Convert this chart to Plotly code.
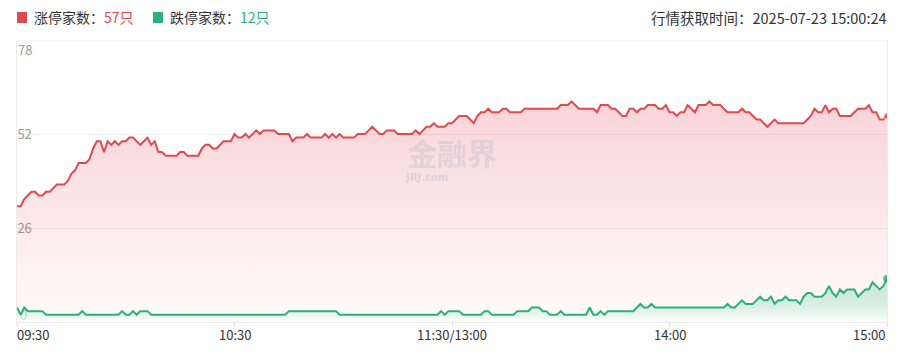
import plotly.graph_objects as go

# ---- data ----
tick_minutes = [0, 60, 120, 180, 240]
tick_labels = ["09:30", "10:30", "11:30/13:00", "14:00", "15:00"]
y_ticks = [0, 26, 52, 78]

limit_up = [
    32, 32, 34, 35, 36, 36, 35, 35, 36, 36, 37, 38, 38, 38, 39, 41, 42, 44, 44, 44,
    45, 48, 50, 50, 47, 50, 49, 50, 49, 50, 50, 51, 51, 50, 49, 50, 51, 49, 50, 47,
    47, 46, 46, 46, 46, 47, 47, 46, 46, 46, 46, 48, 49, 49, 48, 48, 49, 50, 50, 50,
    52, 51, 51, 52, 51, 52, 53, 52, 53, 53, 53, 53, 52, 52, 52, 52, 50, 51, 51, 51,
    52, 51, 51, 51, 51, 52, 51, 52, 51, 52, 51, 51, 51, 51, 52, 52, 52, 53, 54, 53,
    52, 52, 53, 53, 53, 52, 52, 52, 52, 52, 53, 52, 53, 54, 54, 55, 54, 54, 54, 55,
    55, 56, 57, 57, 57, 56, 55, 57, 58, 58, 59, 58, 58, 58, 59, 59, 58, 58, 58, 58,
    59, 59, 59, 59, 59, 59, 59, 59, 59, 59, 60, 60, 60, 61, 60, 59, 59, 59, 59, 59,
    58, 60, 60, 60, 59, 59, 58, 57, 57, 59, 59, 58, 59, 59, 60, 60, 60, 59, 59, 60,
    58, 58, 57, 58, 58, 60, 59, 58, 60, 60, 60, 61, 60, 60, 60, 59, 58, 58, 58, 58,
    59, 58, 58, 57, 56, 56, 55, 54, 55, 56, 55, 55, 55, 55, 55, 55, 55, 55, 56, 57,
    59, 58, 58, 60, 58, 59, 59, 57, 57, 57, 57, 58, 59, 59, 59, 60, 58, 58, 56, 56,
    57,
]

limit_down = [
    4, 2, 4, 3, 3, 3, 3, 3, 2, 2, 2, 2, 2, 2, 2, 2, 2, 2, 3, 2,
    2, 2, 2, 2, 2, 2, 2, 2, 2, 3, 2, 2, 3, 2, 3, 3, 3, 2, 2, 2,
    2, 2, 2, 2, 2, 2, 2, 2, 2, 2, 2, 2, 2, 2, 2, 2, 2, 2, 2, 2,
    2, 2, 2, 2, 2, 2, 2, 2, 2, 2, 2, 2, 2, 2, 2, 3, 3, 3, 3, 3,
    3, 3, 3, 3, 3, 3, 3, 3, 3, 2, 2, 2, 2, 2, 2, 2, 2, 2, 2, 2,
    2, 2, 2, 2, 2, 2, 2, 2, 2, 2, 2, 2, 2, 2, 2, 2, 2, 3, 2, 3,
    3, 3, 3, 2, 2, 2, 2, 2, 2, 3, 3, 2, 2, 2, 2, 2, 2, 2, 3, 3,
    3, 3, 4, 4, 4, 3, 3, 2, 2, 2, 3, 2, 2, 2, 2, 2, 2, 2, 4, 2,
    2, 3, 2, 3, 3, 3, 3, 3, 3, 3, 3, 4, 5, 4, 4, 5, 4, 4, 4, 4,
    4, 4, 4, 4, 4, 4, 4, 4, 4, 4, 4, 4, 4, 4, 4, 4, 5, 4, 4, 5,
    6, 5, 5, 5, 6, 7, 6, 6, 7, 5, 6, 6, 7, 6, 6, 6, 5, 7, 8, 8,
    7, 7, 7, 8, 10, 8, 7, 9, 8, 9, 9, 9, 7, 8, 9, 9, 11, 10, 9, 10,
    12,
]

minutes = list(range(len(limit_up)))

RED = "#e04a4f"
GREEN = "#2bb07a"
CJK = "Noto Sans CJK SC"

# page body has an 8px default margin; size the figure so it fills the window
OFF = 8
WIN_W, WIN_H = 903, 359
W, H = WIN_W - OFF, WIN_H - OFF
# plot area in window pixels
X_LEFT, X_RIGHT, Y_TOP, Y_BOT = 17, 887, 40, 322
L, R, T, B = X_LEFT - OFF, WIN_W - X_RIGHT, Y_TOP - OFF, WIN_H - Y_BOT
PW, PH = X_RIGHT - X_LEFT, Y_BOT - Y_TOP


def px(x):
    return (x - X_LEFT) / PW


def py(y):
    return (Y_BOT - y) / PH


fig = go.Figure()

end_sizes = [0] * (len(minutes) - 1) + [7]

fig.add_trace(go.Scatter(
    x=minutes, y=limit_up, mode="lines+markers", name="涨停家数",
    line=dict(color=RED, width=2, shape="linear"),
    marker=dict(size=end_sizes, color=RED),
    fill="tozeroy",
    fillgradient=dict(type="vertical",
                      colorscale=[[0, "rgba(232,80,96,0.02)"], [1, "rgba(232,80,96,0.25)"]],
                      start=0, stop=61),
    hoverinfo="skip", showlegend=False,
))

fig.add_trace(go.Scatter(
    x=minutes, y=limit_down, mode="lines+markers", name="跌停家数",
    line=dict(color=GREEN, width=2),
    marker=dict(size=end_sizes, color="#2e9a52"),
    fill="tozeroy",
    fillgradient=dict(type="vertical",
                      colorscale=[[0, "rgba(255,255,255,0.6)"], [1, "rgba(43,176,122,0.18)"]],
                      start=0, stop=12),
    hoverinfo="skip", showlegend=False,
))

annotations = []
# legend
annotations.append(dict(x=px(32), y=py(17), xref="paper", yref="paper", xanchor="left", yanchor="middle",
                        text=f'涨停家数：<span style="color:{RED}">{limit_up[-1]}只</span>',
                        showarrow=False, font=dict(family=CJK, size=14, color="#333333")))
annotations.append(dict(x=px(168), y=py(17), xref="paper", yref="paper", xanchor="left", yanchor="middle",
                        text=f'跌停家数：<span style="color:{GREEN}">{limit_down[-1]}只</span>',
                        showarrow=False, font=dict(family=CJK, size=14, color="#333333")))
annotations.append(dict(x=px(889), y=py(17), xref="paper", yref="paper", xanchor="right", yanchor="middle",
                        text="行情获取时间：2025-07-23 15:00:24",
                        showarrow=False, font=dict(family=CJK, size=14.5, color="#333333")))
# x tick labels
for i, (m, lab) in enumerate(zip(tick_minutes, tick_labels)):
    anchor = "left" if i == 0 else ("right" if i == len(tick_minutes) - 1 else "center")
    annotations.append(dict(x=m, y=0, xref="x", yref="paper", xanchor=anchor, yanchor="top", yshift=-1,
                            text=lab, showarrow=False, xshift=(-2 if i == 0 else 0),
                            font=dict(family=CJK, size=13, color="#333333")))
# top y label
annotations.append(dict(x=0, y=y_ticks[-1], xref="x", yref="y", xanchor="left", yanchor="top", xshift=-1,
                        yshift=2,
                        text=str(y_ticks[-1]), showarrow=False,
                        font=dict(family=CJK, size=13, color="#999999")))
# watermark
annotations.append(dict(x=px(452), y=py(152), xref="paper", yref="paper", xanchor="center", yanchor="middle",
                        text="<b>金融界</b>", showarrow=False,
                        font=dict(family=CJK, size=30, color="rgba(190,192,205,0.42)")))
annotations.append(dict(x=px(403), y=py(177), xref="paper", yref="paper", xanchor="left", yanchor="middle",
                        text="<b>JRJ.com</b>", showarrow=False,
                        font=dict(family="DejaVu Sans", size=10, color="rgba(190,192,205,0.5)")))

shapes = [
    dict(type="rect", xref="paper", yref="paper", x0=px(17), x1=px(27), y0=py(23), y1=py(12),
         fillcolor=RED, line=dict(width=0)),
    dict(type="rect", xref="paper", yref="paper", x0=px(153), x1=px(163), y0=py(23), y1=py(12),
         fillcolor=GREEN, line=dict(width=0)),
]

fig.update_layout(
    width=W, height=H,
    margin=dict(l=L, r=R, t=T, b=B, autoexpand=False),
    paper_bgcolor="white", plot_bgcolor="white",
    annotations=annotations, shapes=shapes,
    showlegend=False,
    xaxis=dict(range=[0, 240], tickvals=tick_minutes, showticklabels=False, automargin=False,
               ticks="outside", ticklen=4, tickcolor="#e0e0e0",
               showgrid=False, zeroline=False,
               showline=True, linecolor="#ebebeb", linewidth=1, fixedrange=True),
    yaxis=dict(range=[0, 78], tickvals=y_ticks[1:3], ticktext=[str(v) for v in y_ticks[1:3]],
               ticklabelposition="inside", ticklabeloverflow="allow", layer="below traces",
               automargin=False, ticklabelstandoff=0,
               tickfont=dict(family=CJK, size=13, color="#999999"),
               showgrid=True, gridcolor="#f0f0f0", gridwidth=1, zeroline=False,
               showline=True, mirror=True, linecolor="#ebebeb", linewidth=1, fixedrange=True),
    yaxis2=dict(range=[0, 78], overlaying="y", side="left", tickvals=y_ticks[:1],
                ticktext=[str(y_ticks[0])], ticklabelposition="inside", ticklabeloverflow="allow",
                ticklabelshift=-7, ticklabelstandoff=0, layer="below traces", automargin=False,
                tickfont=dict(family=CJK, size=13, color="#aaaaaa"),
                showgrid=False, zeroline=False, showline=False, fixedrange=True),
)
# dummy invisible trace to activate the secondary axis for the "0" label
fig.add_trace(go.Scatter(x=[0], y=[0], yaxis="y2", mode="markers", marker=dict(size=0, opacity=0),
                         hoverinfo="skip", showlegend=False))
# top gridline at 78
fig.add_hline(y=78, line=dict(color="#f0f0f0", width=1), layer="below")

fig.write_html("out.html")
